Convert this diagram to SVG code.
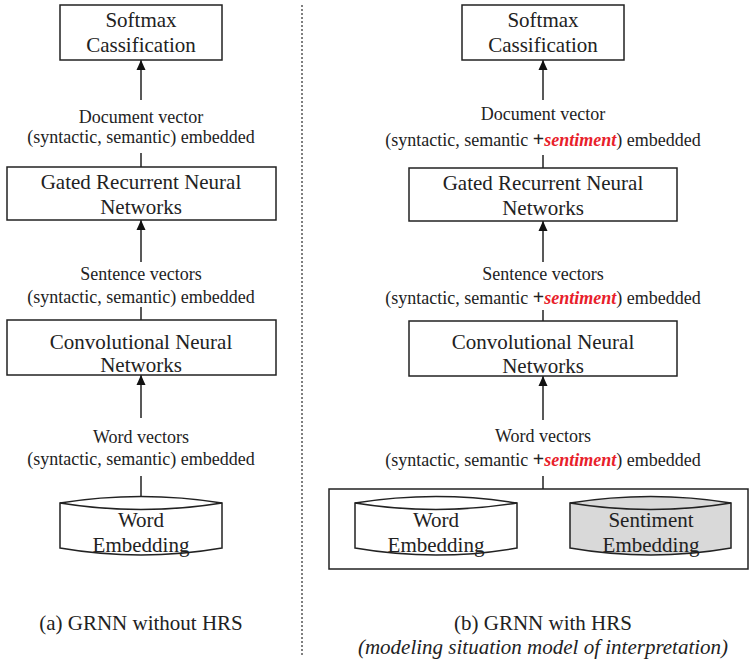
<svg xmlns="http://www.w3.org/2000/svg" width="751" height="663" viewBox="0 0 751 663" font-family="'Liberation Serif', 'Times New Roman', 'DejaVu Serif', serif">
<style>
.box{fill:#fff;stroke:#222;stroke-width:1.5}
.cyl{stroke:#222;stroke-width:1.5}
.ln{fill:none;stroke:#222;stroke-width:1.5}
text{font-family:'Liberation Serif','Times New Roman','DejaVu Serif',serif;fill:#222;text-anchor:middle}
.bt{font-size:21px}
.lb{font-size:18px}
.cap{font-size:21px}
.sent{font-weight:bold;font-style:italic;fill:#e8202a}
.plus{font-weight:bold;font-size:20px}
</style>
<defs>
<marker id="ah" viewBox="0 0 10 10" refX="10" refY="5" markerWidth="10" markerHeight="10" markerUnits="userSpaceOnUse" orient="auto">
<path d="M0,0.5 L10,5 L0,9.5 Z" fill="#111"/>
</marker>
</defs>
<rect width="751" height="663" fill="#fff"/>
<line x1="302" y1="5" x2="302" y2="655" stroke="#555" stroke-width="1.5" stroke-dasharray="2,2"/>

<g id="connectors">
<line class="ln" x1="141" y1="100" x2="141" y2="60" marker-end="url(#ah)"/>
<line class="ln" x1="141" y1="153" x2="141" y2="167"/>
<line class="ln" x1="141" y1="262" x2="141" y2="220" marker-end="url(#ah)"/>
<line class="ln" x1="141" y1="307" x2="141" y2="320"/>
<line class="ln" x1="141" y1="418" x2="141" y2="375" marker-end="url(#ah)"/>
<line class="ln" x1="141" y1="476" x2="141" y2="503"/>
<line class="ln" x1="543" y1="100" x2="543" y2="60" marker-end="url(#ah)"/>
<line class="ln" x1="543" y1="155" x2="543" y2="168"/>
<line class="ln" x1="543" y1="262" x2="543" y2="221" marker-end="url(#ah)"/>
<line class="ln" x1="543" y1="310" x2="543" y2="321"/>
<line class="ln" x1="543" y1="420" x2="543" y2="376" marker-end="url(#ah)"/>
<line class="ln" x1="543" y1="476" x2="543" y2="489"/>
</g>

<g id="left-softmax">
<rect class="box" x="60" y="5" width="162" height="55"/>
<text class="bt" x="141" y="27">Softmax</text>
<text class="bt" x="141" y="52">Cassification</text>
</g>
<g id="left-doc-label">
<text class="lb" x="141" y="123">Document vector</text>
<text class="lb" x="141" y="143">(syntactic, semantic) embedded</text>
</g>
<g id="left-grnn">
<rect class="box" x="7" y="167" width="269" height="53"/>
<text class="bt" x="141" y="189">Gated Recurrent Neural</text>
<text class="bt" x="141" y="214">Networks</text>
</g>
<g id="left-sent-label">
<text class="lb" x="141" y="280">Sentence vectors</text>
<text class="lb" x="141" y="303">(syntactic, semantic) embedded</text>
</g>
<g id="left-cnn">
<rect class="box" x="7" y="320" width="269" height="55"/>
<text class="bt" x="141" y="349">Convolutional Neural</text>
<text class="bt" x="141" y="372">Networks</text>
</g>
<g id="left-word-label">
<text class="lb" x="141" y="443">Word vectors</text>
<text class="lb" x="141" y="465">(syntactic, semantic) embedded</text>
</g>
<g id="left-word-embedding">
<path class="cyl" fill="#fff" d="M60,503 Q141,490 222,503 L222,548 Q141,562 60,548 Z"/>
<path class="ln" d="M60,503 Q141,516 222,503"/>
<text class="bt" x="141" y="527">Word</text>
<text class="bt" x="141" y="552">Embedding</text>
</g>
<g id="caption-a">
<text class="cap" x="141" y="630">(a) GRNN without HRS</text>
</g>

<g id="right-softmax">
<rect class="box" x="462" y="5" width="162" height="55"/>
<text class="bt" x="543" y="27">Softmax</text>
<text class="bt" x="543" y="52">Cassification</text>
</g>
<g id="right-doc-label">
<text class="lb" x="543" y="120">Document vector</text>
<text class="lb" x="543" y="146">(syntactic, semantic <tspan class="plus">+</tspan><tspan class="sent">sentiment</tspan>) embedded</text>
</g>
<g id="right-grnn">
<rect class="box" x="409" y="168" width="268" height="53"/>
<text class="bt" x="543" y="190">Gated Recurrent Neural</text>
<text class="bt" x="543" y="215">Networks</text>
</g>
<g id="right-sent-label">
<text class="lb" x="543" y="280">Sentence vectors</text>
<text class="lb" x="543" y="304">(syntactic, semantic <tspan class="plus">+</tspan><tspan class="sent">sentiment</tspan>) embedded</text>
</g>
<g id="right-cnn">
<rect class="box" x="409" y="321" width="268" height="55"/>
<text class="bt" x="543" y="349">Convolutional Neural</text>
<text class="bt" x="543" y="373">Networks</text>
</g>
<g id="right-word-label">
<text class="lb" x="543" y="442">Word vectors</text>
<text class="lb" x="543" y="466">(syntactic, semantic <tspan class="plus">+</tspan><tspan class="sent">sentiment</tspan>) embedded</text>
</g>
<g id="right-embedding-group">
<rect class="box" x="329" y="489" width="419" height="80"/>
</g>
<g id="right-word-embedding">
<path class="cyl" fill="#fff" d="M355,503 Q436,490 517,503 L517,548 Q436,562 355,548 Z"/>
<path class="ln" d="M355,503 Q436,516 517,503"/>
<text class="bt" x="436" y="527">Word</text>
<text class="bt" x="436" y="552">Embedding</text>
</g>
<g id="right-sentiment-embedding">
<path class="cyl" fill="#d9d9d9" d="M570,503 Q651,490 731,503 L731,548 Q651,562 570,548 Z"/>
<path class="ln" d="M570,503 Q651,516 731,503"/>
<text class="bt" x="651" y="527">Sentiment</text>
<text class="bt" x="651" y="552">Embedding</text>
</g>
<g id="caption-b">
<text class="cap" x="543" y="630">(b) GRNN with HRS</text>
<text class="cap" x="543" y="654" font-style="italic">(modeling situation model of interpretation)</text>
</g>
</svg>
